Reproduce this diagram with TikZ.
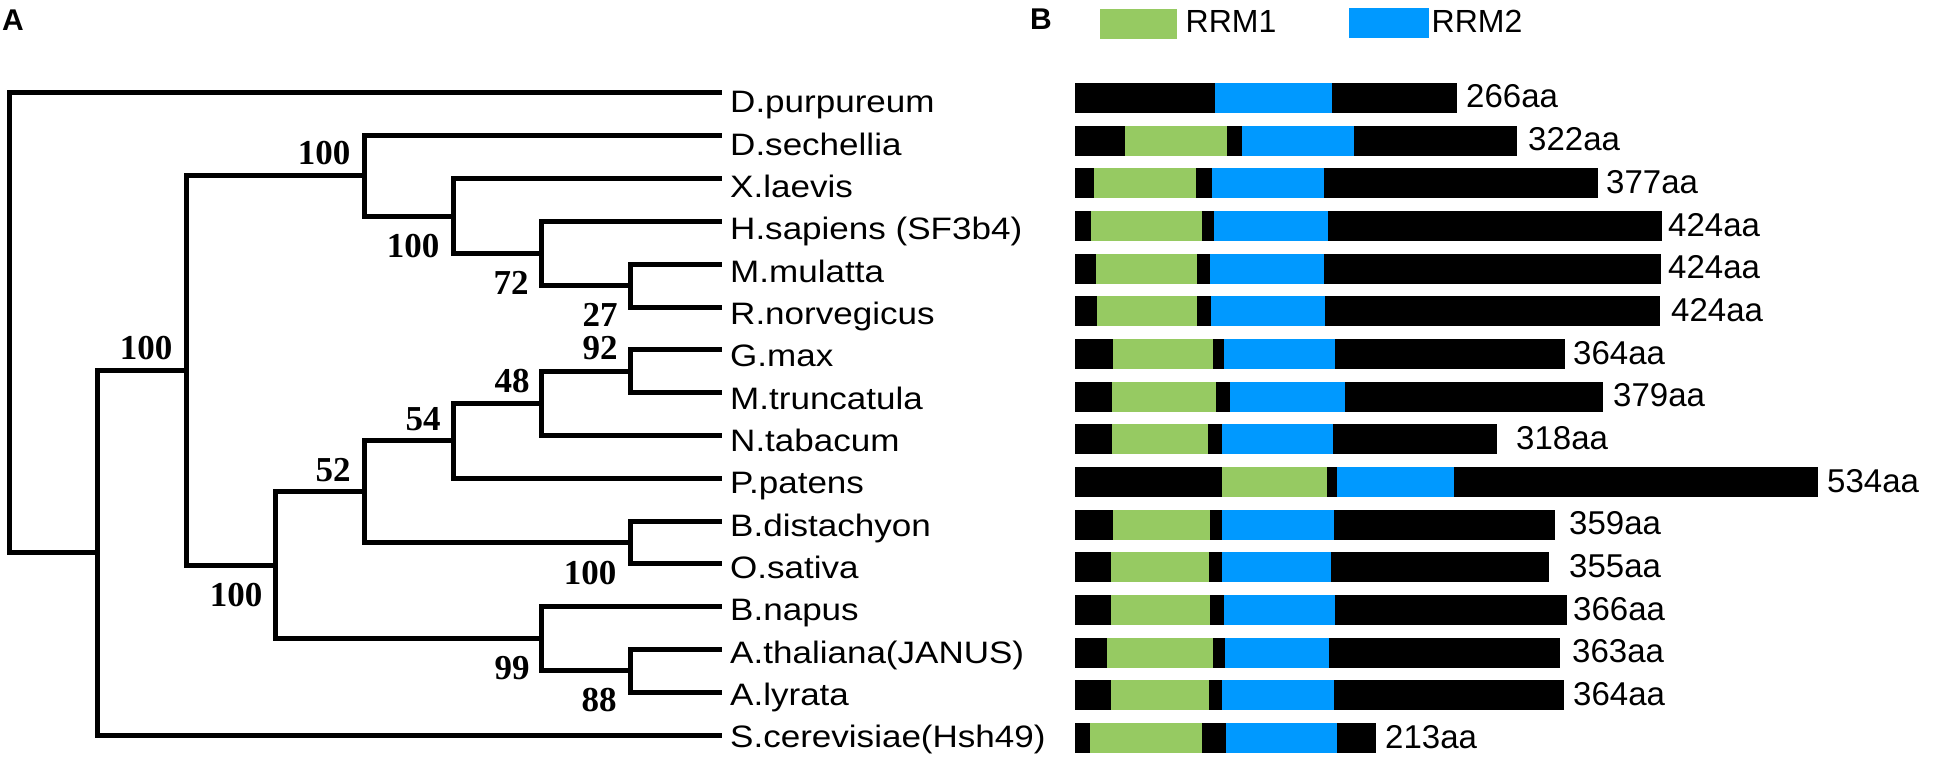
\documentclass[tikz,border=0pt]{standalone}
\usepackage{fontspec}
\setmainfont{Liberation Sans}
\newfontfamily\taxonfont{Liberation Sans}[FakeStretch=1.13]
\newfontfamily\bootfont{Liberation Serif}
\usepackage{tikz}
\definecolor{rrmgreen}{RGB}{150,202,98}
\definecolor{rrmblue}{RGB}{0,153,255}
\tikzset{branch/.style={line width=5pt, line join=miter},
  species/.style={anchor=base west, inner sep=0pt, font=\taxonfont\fontsize{31}{36}\selectfont},
  lenlabel/.style={anchor=base west, inner sep=0pt, font=\fontsize{33}{38}\selectfont},
  boot/.style={inner sep=0pt, font=\bootfont\bfseries\fontsize{35}{40}\selectfont},
  panel/.style={anchor=base west, inner sep=0pt, font=\bfseries\fontsize{30}{34}\selectfont},
  legendtxt/.style={anchor=base west, inner sep=0pt, font=\fontsize{32}{36}\selectfont}}

\begin{document}
\begin{tikzpicture}[x=1pt, y=-1pt]
    \useasboundingbox (0,0) rectangle (1933,765);

    % panel letters and legend
    \node[panel] (pa) at (2,31) {A};
    \node[panel] (pb) at (1030,30) {B};
    \fill[rrmgreen] (1100,9) rectangle (1177,39);
    \node[legendtxt] (rrm1) at (1185.5,33) {RRM1};
    \fill[rrmblue] (1349,8) rectangle (1429,38);
    \node[legendtxt] (rrm2) at (1431.5,33) {RRM2};

    % leaves
    \foreach \name [count=\i from 0] in {D.purpureum, D.sechellia, X.laevis, H.sapiens (SF3b4), M.mulatta, R.norvegicus, G.max, M.truncatula, N.tabacum, P.patens, B.distachyon, O.sativa, B.napus, A.thaliana(JANUS), A.lyrata, S.cerevisiae(Hsh49)}{
        \coordinate (tip\i) at (722, 93+42.8*\i);
        \node[species] (sp\i) at (730, 113+42.33*\i) {\name};
    }

    % inner nodes
    \coordinate (root) at (9, 322.9);
    \coordinate (n1)   at (97, 552.8);
    \coordinate (n2)   at (186, 370.5);
    \coordinate (n3)   at (364, 175.9);
    \coordinate (n4)   at (453, 216);
    \coordinate (n5)   at (541, 253.5);
    \coordinate (n6)   at (630, 285.6);
    \coordinate (n8)   at (275, 565.2);
    \coordinate (n9)   at (364, 491.6);
    \coordinate (n10)  at (453, 440.8);
    \coordinate (n11)  at (541, 403.3);
    \coordinate (ng)   at (630, 371.2);
    \coordinate (n12)  at (630, 542.4);
    \coordinate (n13)  at (541, 638.7);
    \coordinate (n14)  at (630, 670.8);

    \draw[branch] (root) |- (tip0);
    \draw[branch] (root) |- (n1);
    \draw[branch] (n1) |- (n2);
    \draw[branch] (n1) |- (tip15);
    \draw[branch] (n2) |- (n3);
    \draw[branch] (n2) |- (n8);
    \draw[branch] (n3) |- (tip1);
    \draw[branch] (n3) |- (n4);
    \draw[branch] (n4) |- (tip2);
    \draw[branch] (n4) |- (n5);
    \draw[branch] (n5) |- (tip3);
    \draw[branch] (n5) |- (n6);
    \draw[branch] (n6) |- (tip4);
    \draw[branch] (n6) |- (tip5);
    \draw[branch] (n8) |- (n9);
    \draw[branch] (n8) |- (n13);
    \draw[branch] (n9) |- (n10);
    \draw[branch] (n9) |- (n12);
    \draw[branch] (n10) |- (n11);
    \draw[branch] (n10) |- (tip9);
    \draw[branch] (n11) |- (ng);
    \draw[branch] (n11) |- (tip8);
    \draw[branch] (ng) |- (tip6);
    \draw[branch] (ng) |- (tip7);
    \draw[branch] (n12) |- (tip10);
    \draw[branch] (n12) |- (tip11);
    \draw[branch] (n13) |- (tip12);
    \draw[branch] (n13) |- (n14);
    \draw[branch] (n14) |- (tip13);
    \draw[branch] (n14) |- (tip14);

    % bootstrap values
    \node[boot] (bn2)  at (146,348) {100};
    \node[boot] (bn3)  at (324,153) {100};
    \node[boot] (bn4)  at (413,246) {100};
    \node[boot] (bn5)  at (511,283) {72};
    \node[boot] (bn6)  at (600,315) {27};
    \node[boot] (bng)  at (600,348) {92};
    \node[boot] (bn11) at (512,381) {48};
    \node[boot] (bn10) at (423,419) {54};
    \node[boot] (bn9)  at (333,470) {52};
    \node[boot] (bn8)  at (236,595) {100};
    \node[boot] (bn12) at (590,573) {100};
    \node[boot] (bn13) at (512,668) {99};
    \node[boot] (bn14) at (599,700) {88};

    % domain bars
    \foreach \i/\ga/\gb/\ba/\bb/\e/\lx/\len in {
        0/1215/1215/1215/1332/1457/1467/266aa,
        1/1125/1227/1242/1354/1517/1529/322aa,
        2/1094/1196/1212/1324/1598/1607/377aa,
        3/1091/1202/1214/1328/1662/1669/424aa,
        4/1096/1197/1210/1324/1661/1669/424aa,
        5/1097/1197/1211/1325/1660/1672/424aa,
        6/1113/1213/1224/1335/1565/1574/364aa,
        7/1112/1216/1230/1345/1603/1614/379aa,
        8/1112/1208/1222/1333/1497/1517/318aa,
        9/1222/1327/1337/1454/1818/1828/534aa,
        10/1113/1210/1222/1334/1555/1570/359aa,
        11/1111/1209/1222/1331/1549/1570/355aa,
        12/1111/1210/1224/1335/1567/1574/366aa,
        13/1107/1213/1225/1329/1560/1573/363aa,
        14/1111/1209/1222/1334/1564/1574/364aa,
        15/1090/1202/1226/1337/1376/1386/213aa}{
        \pgfmathsetmacro\yb{98+42.67*\i}
        \fill[black] (1075,\yb-15) rectangle (\e,\yb+15);
        \fill[rrmgreen] (\ga,\yb-15) rectangle (\gb,\yb+15);
        \fill[rrmblue] (\ba,\yb-15) rectangle (\bb,\yb+15);
        \node[lenlabel] (len\i) at (\lx-1,\yb+10) {\len};
    }
\end{tikzpicture}
\end{document}
